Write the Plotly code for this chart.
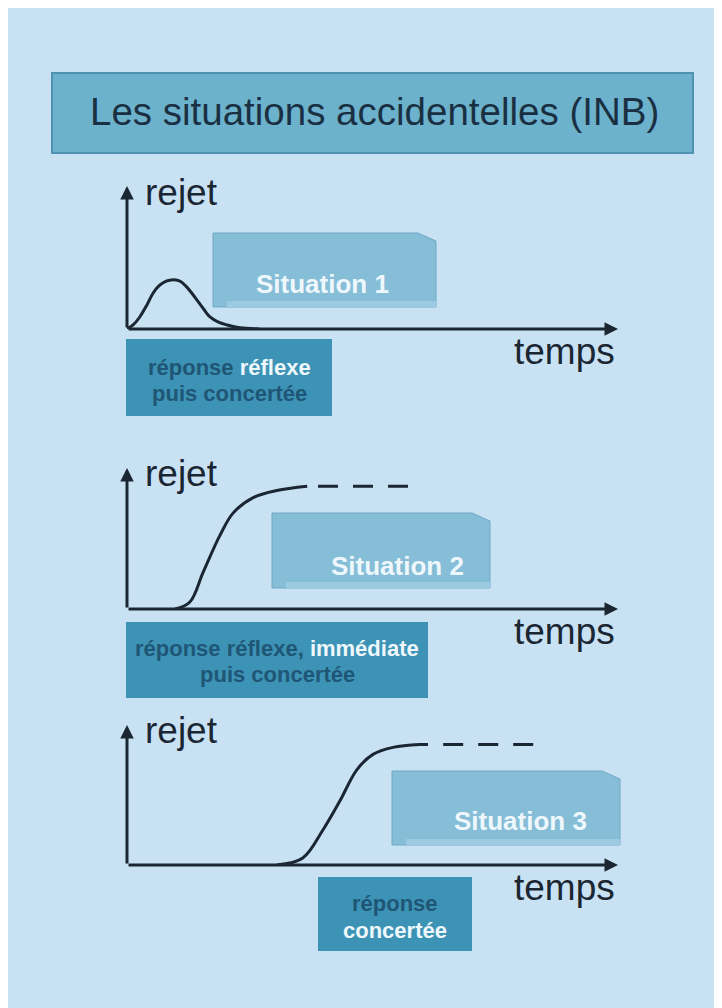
import plotly.graph_objects as go

W, H = 722, 1008

# texts
title = "Les situations accidentelles (INB)"
y_label = "rejet"
x_label = "temps"
situations = ["Situation 1", "Situation 2", "Situation 3"]
WHITE = "#eef8fc"
responses = [
    ["réponse <span style='color:%s'>réflexe</span>" % WHITE, "puis concertée"],
    ["réponse réflexe, <span style='color:%s'>immédiate</span>" % WHITE, "puis concertée"],
    ["réponse", "<span style='color:%s'>concertée</span>" % WHITE],
]

# curves (time 0-10, release 0-1)
t1 = [0, 0.13, 0.26, 0.4, 0.53, 0.66, 0.8, 0.9, 1.0, 1.1, 1.2, 1.31, 1.43, 1.56, 1.69, 1.85, 2.04, 2.3, 2.7]
r1 = [0, 0.03, 0.084, 0.165, 0.25, 0.305, 0.335, 0.343, 0.343, 0.33, 0.30, 0.255, 0.20, 0.14, 0.084,
      0.05, 0.028, 0.008, 0]

t2 = [0.98, 1.28, 1.55, 1.89, 2.16, 2.57, 3.05, 3.67]
r2 = [0, 0.05, 0.26, 0.52, 0.68, 0.79, 0.84, 0.87]
t2_dash = [3.89, 5.85]
r2_dash = [0.87, 0.87]

t3 = [3.05, 3.58, 3.99, 4.34, 4.68, 5.01, 5.42, 5.97, 6.13]
r3 = [0, 0.05, 0.25, 0.46, 0.68, 0.79, 0.84, 0.86, 0.86]
t3_dash = [6.44, 8.43]
r3_dash = [0.86, 0.86]

curves = [(t1, r1, None, None), (t2, r2, t2_dash, r2_dash), (t3, r3, t3_dash, r3_dash)]

# layout, in screen pixels of the page (the figure itself starts at 8,8)
BG = "#c9e2f3"
INK = "#1b2633"
panels = [
    dict(axis=329, top=186, sit=(213, 233, 436, 307), sit_txt=(322, 293),
         resp=(126, 339, 332, 416), resp_txt=(229, 375, 401)),
    dict(axis=609, top=468, sit=(272, 513, 490, 588), sit_txt=(397, 575),
         resp=(126, 622, 428, 698), resp_txt=(277, 656, 682)),
    dict(axis=865, top=725, sit=(392, 771, 620, 845), sit_txt=(520, 830),
         resp=(318, 877, 472, 951), resp_txt=(395, 911, 938)),
]
X0, X1 = 127, 618
OFF = 8


def fx(x):
    return (x - OFF) / W


def fy(y):
    return 1 - (y - OFF) / H


FONT = "Liberation Sans, Arial, sans-serif"

fig = go.Figure()
shapes = []
annotations = []

# title banner
shapes.append(dict(type="rect", xref="paper", yref="paper", x0=fx(52), x1=fx(693), y0=fy(153), y1=fy(73),
                   fillcolor="#6cb2cd", line=dict(color="#4f93b2", width=2), layer="below"))
annotations.append(dict(xref="paper", yref="paper", x=fx(374), y=fy(125 - 0.35 * 38.5), text=title,
                        showarrow=False, xanchor="center", yanchor="middle",
                        font=dict(family=FONT, size=38.5, color="#1a3042")))

for i, p in enumerate(panels):
    n = i + 2
    xa, ya = "x%d" % n, "y%d" % n
    fig.update_layout(**{
        "xaxis%d" % n: dict(domain=[fx(X0), fx(X1)], range=[0, 10], visible=False, fixedrange=True,
                            anchor=ya),
        "yaxis%d" % n: dict(domain=[fy(p["axis"]), fy(p["top"])], range=[0, 1], visible=False,
                            fixedrange=True, anchor=xa),
    })
    t, r, td, rd = curves[i]

    # situation box (cut top-right corner, lighter lower band)
    x0, y0, x1, y1 = p["sit"]
    path = "M %f,%f L %f,%f L %f,%f L %f,%f L %f,%f Z" % (
        fx(x0), fy(y0), fx(x1 - 18), fy(y0), fx(x1), fy(y0 + 8), fx(x1), fy(y1), fx(x0), fy(y1))
    shapes.append(dict(type="path", xref="paper", yref="paper", path=path,
                       fillcolor="#86bdd7", line=dict(color="#6fa9c6", width=1), layer="below"))
    shapes.append(dict(type="rect", xref="paper", yref="paper", x0=fx(x0 + 14), x1=fx(x1), y0=fy(y1),
                       y1=fy(y1 - 6), fillcolor="#9ccbe1", line_width=0, layer="below"))
    annotations.append(dict(xref="paper", yref="paper", x=fx(p["sit_txt"][0]),
                            y=fy(p["sit_txt"][1] - 0.35 * 26), text="<b>%s</b>" % situations[i],
                            showarrow=False, xanchor="center", yanchor="middle",
                            font=dict(family=FONT, size=26, color=WHITE)))

    # response box
    x0, y0, x1, y1 = p["resp"]
    shapes.append(dict(type="rect", xref="paper", yref="paper", x0=fx(x0), x1=fx(x1), y0=fy(y1), y1=fy(y0),
                       fillcolor="#3d93b5", line_width=0, layer="below"))
    cx, b1, b2 = p["resp_txt"]
    for line, base in zip(responses[i], (b1, b2)):
        annotations.append(dict(xref="paper", yref="paper", x=fx(cx), y=fy(base - 0.35 * 22),
                                text="<b>%s</b>" % line, showarrow=False, xanchor="center",
                                yanchor="middle", font=dict(family=FONT, size=22, color="#1f5676")))

    # axes with arrows
    annotations.append(dict(xref=xa, yref=ya, axref=xa, ayref=ya, x=0, y=1, ax=0, ay=0, text="",
                            showarrow=True, arrowhead=2, arrowsize=0.9, arrowwidth=3, arrowcolor=INK,
                            standoff=0, startstandoff=0))
    annotations.append(dict(xref=xa, yref=ya, axref=xa, ayref=ya, x=10, y=0, ax=0, ay=0, text="",
                            showarrow=True, arrowhead=2, arrowsize=0.9, arrowwidth=3, arrowcolor=INK,
                            standoff=0, startstandoff=0))

    # axis labels
    base_rejet = p["top"] + 19 if i == 0 else p["top"] + 18
    annotations.append(dict(xref="paper", yref="paper", x=fx(143), y=fy(base_rejet - 0.35 * 37),
                            text=y_label, showarrow=False, xanchor="left", yanchor="middle",
                            font=dict(family=FONT, size=37, color=INK)))
    annotations.append(dict(xref="paper", yref="paper", x=fx(617), y=fy(p["axis"] + 35 - 0.35 * 37),
                            text=x_label, showarrow=False, xanchor="right", yanchor="middle",
                            font=dict(family=FONT, size=37, color=INK)))

    # release curves
    fig.add_trace(go.Scatter(x=t, y=r, mode="lines", xaxis=xa, yaxis=ya, hoverinfo="skip",
                             line=dict(color=INK, width=3, shape="spline", smoothing=1)))
    if td is not None:
        fig.add_trace(go.Scatter(x=td, y=rd, mode="lines", xaxis=xa, yaxis=ya, hoverinfo="skip",
                                 line=dict(color=INK, width=3, dash="20px,15px")))

fig.update_layout(
    width=W, height=H,
    margin=dict(l=0, r=0, t=0, b=0),
    paper_bgcolor=BG,
    plot_bgcolor="rgba(0,0,0,0)",
    showlegend=False,
    xaxis=dict(visible=False), yaxis=dict(visible=False),
    shapes=shapes,
    annotations=annotations,
)

fig.write_html("out.html")
